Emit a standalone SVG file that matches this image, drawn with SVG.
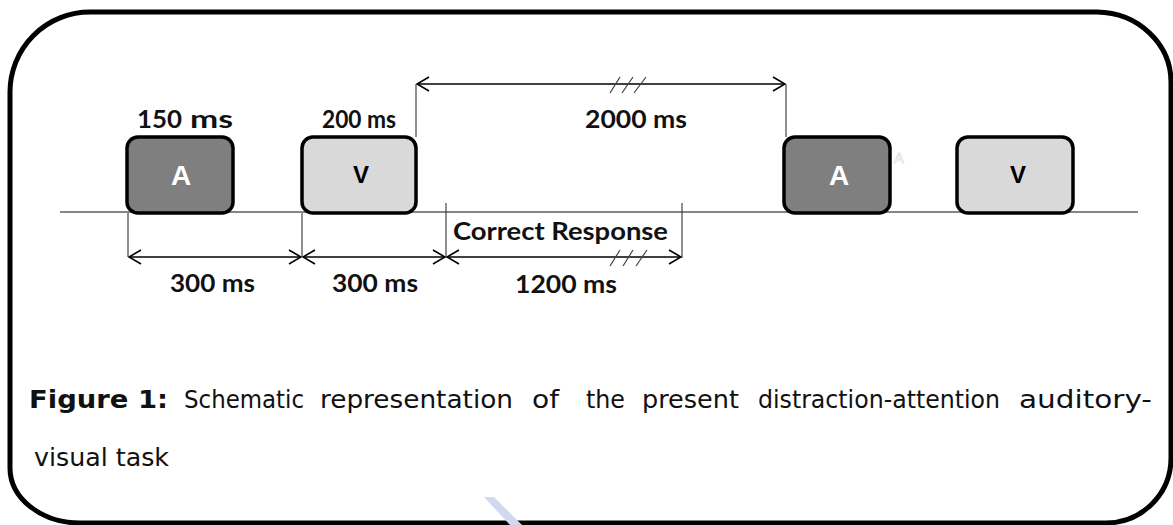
<svg xmlns="http://www.w3.org/2000/svg" width="1173" height="525" viewBox="0 0 1173 525">
  <style>
    .frame { fill: none; stroke: #000; stroke-width: 5; }
    .timeline { stroke: #868686; stroke-width: 2; }
    .stimA { fill: #7f7f7f; stroke: #000; stroke-width: 3.5; }
    .stimV { fill: #d9d9d9; stroke: #000; stroke-width: 3.5; }
    .letterA { font-family: "Liberation Sans", Arial, sans-serif; font-weight: bold; font-size: 28px; fill: #fff; text-anchor: middle; }
    .letterV { font-family: "Liberation Sans", Arial, sans-serif; font-weight: bold; font-size: 24px; fill: #000; text-anchor: middle; }
    .lbl { font-family: Lato, "Open Sans", sans-serif; font-weight: bold; font-size: 25px; fill: #111; }
    .dim { stroke: #000; stroke-width: 1.6; fill: none; }
    .tick { stroke: #333; stroke-width: 1.1; }
    .hash { stroke: #444; stroke-width: 1.2; }
    .cap { font-family: "DejaVu Sans Condensed", "DejaVu Sans", Tahoma, sans-serif; font-stretch: condensed; font-size: 25px; fill: #111; }
    .capb { font-weight: bold; }
  </style>
  <defs>
    <marker id="chev" viewBox="0 0 14 16" refX="13" refY="8" markerWidth="14" markerHeight="16" markerUnits="userSpaceOnUse" orient="auto-start-reverse">
      <path d="M1,1 L13,8 L1,15" fill="none" stroke="#000" stroke-width="1.6"/>
    </marker>
  </defs>

  <!-- rounded outer frame -->
  <path class="frame" d="M90,12 H1097 A75,70 0 0 1 1171,82 V458 A65,65 0 0 1 1106,523 H80 A70,55 0 0 1 10,468 V92 A80,80 0 0 1 90,12 Z"/>

  <!-- faint mark at bottom -->
  <path d="M484,497 L494,497 L522,525 L510,525 Z" fill="#d4d8ee"/>

  <!-- time axis -->
  <line class="timeline" x1="60" y1="212" x2="1138" y2="212"/>

  <!-- connectors: dimension arrows, ticks and break marks -->
  <g id="connectors">
    <line class="tick" x1="416" y1="84" x2="416" y2="137"/>
    <line class="tick" x1="786" y1="84" x2="786" y2="137"/>
    <line class="dim" x1="417" y1="84" x2="785" y2="84" marker-start="url(#chev)" marker-end="url(#chev)"/>
    <line class="hash" x1="610" y1="93" x2="620" y2="77"/>
    <line class="hash" x1="622" y1="93" x2="633" y2="77"/>
    <line class="hash" x1="634" y1="93" x2="646" y2="77"/>

    <line class="tick" x1="128" y1="213" x2="128" y2="257"/>
    <line class="tick" x1="302" y1="213" x2="302" y2="257"/>
    <line class="tick" x1="446" y1="203" x2="446" y2="258"/>
    <line class="tick" x1="682" y1="203" x2="682" y2="258"/>
    <line class="dim" x1="129" y1="257" x2="301" y2="257" marker-start="url(#chev)" marker-end="url(#chev)"/>
    <line class="dim" x1="303" y1="257" x2="445" y2="257" marker-start="url(#chev)" marker-end="url(#chev)"/>
    <line class="dim" x1="447" y1="257" x2="681" y2="257" marker-start="url(#chev)" marker-end="url(#chev)"/>
    <line class="hash" x1="610" y1="266" x2="620" y2="250"/>
    <line class="hash" x1="623" y1="266" x2="633" y2="250"/>
    <line class="hash" x1="636" y1="266" x2="647" y2="250"/>
  </g>

  <!-- stimuli -->
  <g id="stim-a1">
    <rect class="stimA" x="127" y="137" width="106" height="76" rx="11"/>
    <text class="letterA" x="181" y="185">A</text>
  </g>
  <g id="stim-v1">
    <rect class="stimV" x="302" y="137" width="114" height="76" rx="11"/>
    <text class="letterV" x="361" y="183">V</text>
  </g>
  <g id="stim-a2">
    <rect class="stimA" x="784" y="137" width="106" height="76" rx="11"/>
    <text class="letterA" x="839" y="185">A</text>
    <text x="899" y="163" font-family="Liberation Sans, sans-serif" font-size="15" fill="none" stroke="#e2e2e2" stroke-width="0.8" text-anchor="middle">A</text>
  </g>
  <g id="stim-v2">
    <rect class="stimV" x="957" y="137" width="116" height="76" rx="11"/>
    <text class="letterV" x="1018" y="183">V</text>
  </g>

  <!-- duration labels -->
  <g id="labels">
    <text class="lbl" x="137" y="128" font-size="26" textLength="45" lengthAdjust="spacingAndGlyphs">150</text>
    <text class="lbl" x="190" y="128" font-size="34" textLength="43" lengthAdjust="spacingAndGlyphs">ms</text>
    <text class="lbl" x="322" y="128" textLength="74" lengthAdjust="spacingAndGlyphs">200 ms</text>
    <text class="lbl" x="585" y="128" textLength="102" lengthAdjust="spacingAndGlyphs">2000 ms</text>
    <text class="lbl" x="453" y="240" textLength="215" lengthAdjust="spacingAndGlyphs">Correct Response</text>
    <text class="lbl" x="170" y="292" textLength="85" lengthAdjust="spacingAndGlyphs">300 ms</text>
    <text class="lbl" x="332" y="292" textLength="86" lengthAdjust="spacingAndGlyphs">300 ms</text>
    <text class="lbl" x="515" y="293" textLength="102" lengthAdjust="spacingAndGlyphs">1200 ms</text>
  </g>

  <!-- caption, justified word by word -->
  <g id="caption">
    <text class="cap capb" x="29" y="408" textLength="139" lengthAdjust="spacingAndGlyphs">Figure 1:</text>
    <text class="cap" x="184" y="408" textLength="120" lengthAdjust="spacingAndGlyphs">Schematic</text>
    <text class="cap" x="320" y="408" textLength="193" lengthAdjust="spacingAndGlyphs">representation</text>
    <text class="cap" x="532" y="408" textLength="27" lengthAdjust="spacingAndGlyphs">of</text>
    <text class="cap" x="586" y="408" textLength="39" lengthAdjust="spacingAndGlyphs">the</text>
    <text class="cap" x="642" y="408" textLength="97" lengthAdjust="spacingAndGlyphs">present</text>
    <text class="cap" x="758" y="408" textLength="242" lengthAdjust="spacingAndGlyphs">distraction-attention</text>
    <text class="cap" x="1019" y="408" textLength="133" lengthAdjust="spacingAndGlyphs">auditory-</text>
    <text class="cap" x="34" y="466" textLength="135" lengthAdjust="spacingAndGlyphs">visual task</text>
  </g>
</svg>
